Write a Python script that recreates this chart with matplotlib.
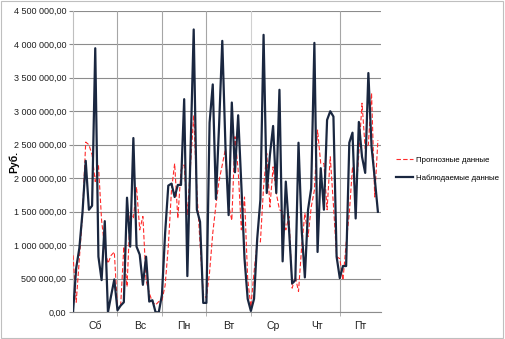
import matplotlib
matplotlib.use("Agg")
import matplotlib.pyplot as plt
from matplotlib.patches import Rectangle
from matplotlib.ticker import FuncFormatter, FixedLocator

plt.rcParams['font.family'] = ['Liberation Sans', 'DejaVu Sans']

days = ["Сб", "Вс", "Пн", "Вт", "Ср", "Чт", "Пт"]
points_per_day = 14

observed = [0.00, 0.66, 0.96, 1.50, 2.26, 1.53, 1.59, 3.94, 0.83, 0.48,
            1.36, 0.00, 0.25, 0.49, 0.03, 0.10, 0.15, 1.71, 0.98, 2.60,
            0.98, 0.86, 0.41, 0.83, 0.16, 0.18, 0.00, 0.00, 0.26, 1.18,
            1.89, 1.92, 1.72, 1.90, 1.90, 3.18, 0.54, 2.40, 4.22, 1.53,
            1.35, 0.14, 0.14, 2.83, 3.40, 1.69, 2.80, 4.05, 2.47, 1.45,
            3.13, 2.09, 2.94, 1.90, 0.80, 0.20, 0.02, 0.20, 1.10, 1.68,
            4.14, 1.78, 2.35, 2.78, 1.78, 3.32, 0.76, 1.95, 1.25, 0.43,
            0.48, 2.53, 1.23, 0.52, 1.53, 1.85, 4.02, 0.90, 2.15, 1.53,
            2.87, 3.00, 2.92, 0.83, 0.51, 0.69, 0.69, 2.53, 2.68, 1.40,
            2.84, 2.32, 2.08, 3.57, 2.47, 2.00, 1.50]

forecast = [0.85, 0.15, 0.80, 1.48, 2.54, 2.50, 2.35, 1.95, 2.20, 1.37,
            0.95, 0.73, 0.85, 0.90, 0.05, 0.10, 0.98, 0.38, 1.48, 1.40,
            1.87, 1.23, 1.43, 0.48, 0.29, 0.15, 0.11, 0.16, 0.18, 0.40,
            0.98, 1.82, 2.22, 1.40, 2.12, 2.20, 1.45, 2.20, 2.94, 1.80,
            1.03, 0.28, 0.21, 0.60, 1.18, 1.60, 1.97, 2.20, 2.44, 1.60,
            1.37, 2.62, 2.12, 1.23, 1.72, 0.50, 0.08, 0.60, 1.05, 1.05,
            1.87, 2.37, 1.57, 2.17, 1.78, 1.53, 1.50, 1.23, 1.43, 0.36,
            0.53, 0.31, 0.98, 1.48, 1.13, 1.57, 1.82, 2.72, 2.22, 2.22,
            1.53, 2.32, 1.60, 0.83, 0.80, 0.48, 1.03, 1.48, 2.17, 1.72,
            2.37, 3.12, 2.44, 2.50, 3.27, 1.72, 2.57]

observed = [v * 1e6 for v in observed]
forecast = [v * 1e6 for v in forecast]

fig = plt.figure(figsize=(5.05, 3.39), dpi=100)
fig.patches.append(Rectangle((0.002, 0.003), 0.995, 0.993, transform=fig.transFigure,
                             fill=False, edgecolor="#bfbfbf", linewidth=0.8))
ax = fig.add_axes([0.1446, 0.0788, 0.61, 0.8896])

x = list(range(len(observed)))
ax.plot(list(range(len(forecast))), forecast, color="#ff2a2a", linewidth=0.8,
        dashes=(4, 2), label="Прогнозные данные", zorder=3)
ax.plot(x, observed, color="#1a2740", linewidth=1.6, label="Наблюдаемые данные", zorder=4)

ax.set_xlim(0, 97)
ax.set_ylim(0, 4.5e6)
ax.set_yticks([i * 5e5 for i in range(10)])
ax.yaxis.set_major_formatter(FuncFormatter(
    lambda v, p: "{:,.2f}".format(v).replace(",", " ").replace(".", ",")))
ax.grid(axis="y", color="#8c8c8c", linewidth=0.8)

bounds = [14, 28, 42, 56, 84]
ax.xaxis.set_minor_locator(FixedLocator(bounds))
ax.xaxis.set_major_locator(FixedLocator([7 + 14 * i for i in range(6)] + [90.5]))
ax.set_xticklabels(days)
for b in bounds:
    ax.axvline(b, color="#d0d0d0" if b == 56 else "#a6a6a6", linewidth=0.8, zorder=1)
ax.tick_params(axis="x", which="major", length=0, pad=6, labelsize=7.5, labelcolor="#202020")
ax.tick_params(axis="x", which="minor", length=3, color="#a6a6a6")
ax.tick_params(axis="y", length=3, color="#8c8c8c", labelsize=6.5, labelcolor="#202020", pad=2)
ax.set_axisbelow(True)

for s in ["top", "right"]:
    ax.spines[s].set_visible(False)
ax.spines["left"].set_color("#bfbfbf")
ax.spines["bottom"].set_color("#8c8c8c")
ax.spines["left"].set_linewidth(0.8)
ax.spines["bottom"].set_linewidth(0.8)

ax.set_ylabel("Руб.", fontsize=7.5, fontweight="bold")
ax.yaxis.set_label_coords(-0.175, 0.5)

fig.legend(loc="center left", bbox_to_anchor=(0.784, 0.501), frameon=False,
           fontsize=5.7, handlelength=2.1, handletextpad=0.45, labelspacing=1.25,
           borderpad=0, borderaxespad=0)

fig.savefig("out.png", dpi=100)
